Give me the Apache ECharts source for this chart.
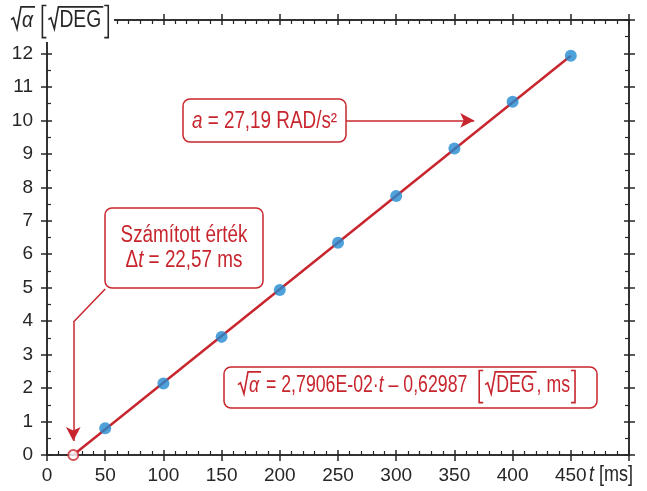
<!DOCTYPE html>
<html>
<head>
<meta charset="utf-8">
<script src="https://cdn.jsdelivr.net/npm/echarts@6/dist/echarts.min.js"></script>
<style>
  html, body { margin: 0; padding: 0; background: #fff; }
  #chart { width: 647px; height: 491px; }
</style>
</head>
<body>
<div id="chart"></div>
<script>
// measured points
const tVals = [50, 100, 150, 200, 250, 300, 350, 400, 450];
const alphaVals = [0.80, 2.14, 3.53, 4.93, 6.34, 7.74, 9.16, 10.56, 11.93];
// fitted line, from the computed zero crossing to the last point
const fitT = [22.57, 450];
const fitAlpha = [0, 11.93];
const zeroT = 22.57;
// axis ranges
const xMin = 0, xMax = 500, xStep = 50;
const yMin = 0, yMax = 13, yStep = 1;

const RED = '#c8262e';
const BLUE = '#2389cf';
const INK = '#262626';
const FAM = '"Liberation Sans Narrow", "Liberation Sans", Arial, sans-serif';

const cv = document.createElement('canvas').getContext('2d');
function fontOf(size, it) { return (it ? 'italic ' : '') + size + 'px ' + FAM; }
function mw(s, size, it, sx) { cv.font = fontOf(size, it); return cv.measureText(s).width * sx; }

const RADW = 11, BRW = 8;
function rowWidth(parts, size, sx) {
  let w = 0;
  parts.forEach(p => {
    if (p.br) w += BRW;
    else if (p.sq) w += RADW + mw(p.sq, size, p.it, sx) + 2;
    else w += mw(p.s, size, p.it, sx);
  });
  return w;
}
// lays out text pieces with drawn radicals and tall brackets; sx squeezes the regular sans
function drawMath(els, parts, x, base, size, color, sx) {
  sx = sx || 0.82;
  const mid = base - 0.33 * size;
  const txt = (s, xx, it) => els.push({
    type: 'text', x: xx, y: mid, z: 110, scaleX: sx,
    style: { text: s, font: fontOf(size, it), fill: color, align: 'left', verticalAlign: 'middle' }
  });
  const line = (pts) => els.push({
    type: 'polyline', z: 110, shape: { points: pts },
    style: { stroke: color, lineWidth: 1.6, fill: null }
  });
  parts.forEach(p => {
    if (p.br) {
      const top = base - 0.98 * size, bot = base + 0.42 * size;
      if (p.br === '[') line([[x + 6, top], [x + 2, top], [x + 2, bot], [x + 6, bot]]);
      else line([[x + 1, top], [x + 5, top], [x + 5, bot], [x + 1, bot]]);
      x += BRW;
    } else if (p.sq) {
      const w = mw(p.sq, size, p.it, sx);
      const top = base - 0.92 * size;
      line([[x, base - 0.36 * size], [x + 2.5, base - 0.44 * size], [x + 6, base + 1],
            [x + 10, top], [x + RADW + w + 2, top]]);
      txt(p.sq, x + RADW, p.it);
      x += RADW + w + 2;
    } else {
      txt(p.s, x, p.it);
      x += mw(p.s, size, p.it, sx);
    }
  });
}
function centered(els, parts, cx, base, size, color, sx) {
  drawMath(els, parts, cx - rowWidth(parts, size, sx || 0.82) / 2, base, size, color, sx);
}
function box(els, x, y, w, h) {
  els.push({
    type: 'rect', z: 105, shape: { x: x, y: y, width: w, height: h, r: 7 },
    style: { fill: '#fff', stroke: RED, lineWidth: 1.5 }
  });
}

const els = [];
// y axis title, on white so the frame stops behind it
els.push({ type: 'rect', z: 104, shape: { x: 0, y: 0, width: 114, height: 42 }, style: { fill: '#fff' } });
drawMath(els, [{ sq: 'α', it: true }, { s: ' ' }, { br: '[' }, { sq: 'DEG' }, { br: ']' }], 11, 28, 23, INK, 0.84);
// x axis title
drawMath(els, [{ s: 't', it: true }, { s: ' [ms]' }], 589, 482, 22, INK);

// annotation boxes
box(els, 183, 99, 163, 43);
centered(els, [{ s: 'a', it: true }, { s: ' = 27,19 RAD/s²' }], 264.5, 129, 23, RED);
box(els, 105, 208, 158, 80);
centered(els, [{ s: 'Számított érték' }], 184, 243, 23, RED);
centered(els, [{ s: 'Δ' }, { s: 't', it: true }, { s: ' = 22,57 ms' }], 184, 268, 23, RED);
box(els, 224, 367, 373, 41);
centered(els, [{ sq: 'α', it: true }, { s: ' = 2,7906E-02·' }, { s: 't', it: true },
  { s: ' – 0,62987  ' }, { br: '[' }, { sq: 'DEG' }, { s: ', ms' }, { br: ']' }], 408, 393, 23, RED, 0.77);

function xAx(pos, inside, labels) {
  return {
    type: 'value', position: pos, min: xMin, max: xMax, interval: xStep,
    axisLine: { show: true, onZero: false, lineStyle: { color: INK, width: 1.5 } },
    axisTick: { show: true, inside: inside, length: inside ? 5 : 6, lineStyle: { color: INK, width: 1.5 } },
    minorTick: { show: inside, splitNumber: 5, length: 4, lineStyle: { color: INK, width: 1.2 } },
    splitLine: { show: false },
    axisLabel: {
      show: labels, margin: 11, color: INK, fontSize: 19, fontFamily: FAM,
      formatter: v => (v === xMax ? '' : String(v))
    }
  };
}
function yAx(pos, inside, labels) {
  return {
    type: 'value', position: pos, min: yMin, max: yMax, interval: yStep,
    axisLine: { show: true, onZero: false, lineStyle: { color: INK, width: 1.5 } },
    axisTick: { show: true, inside: inside, length: inside ? 5 : 6, lineStyle: { color: INK, width: 1.5 } },
    minorTick: { show: inside, splitNumber: 2, length: 4, lineStyle: { color: INK, width: 1.2 } },
    splitLine: { show: false },
    axisLabel: {
      show: labels, margin: 14, color: INK, fontSize: 19, fontFamily: FAM,
      formatter: v => (v === yMax ? '' : String(v))
    }
  };
}

const chart = echarts.init(document.getElementById('chart'));
chart.setOption({
  animation: false,
  backgroundColor: '#fff',
  grid: { left: 47, right: 18, top: 20, bottom: 36 },
  xAxis: [xAx('bottom', false, true), xAx('bottom', true, false), xAx('top', false, false), xAx('top', true, false)],
  yAxis: [yAx('left', false, true), yAx('left', true, false), yAx('right', false, false), yAx('right', true, false)],
  series: [
    {
      type: 'line',
      data: fitT.map((t, i) => [t, fitAlpha[i]]),
      showSymbol: false,
      lineStyle: { color: RED, width: 2.5 },
      z: 3,
      markLine: {
        silent: true,
        symbol: ['none', 'arrow'],
        symbolSize: [11, 14],
        label: { show: false },
        lineStyle: { color: RED, width: 1.5, type: 'solid' },
        data: [
          [{ coord: [257, 10] }, { coord: [367, 10] }],
          [{ coord: [50, 4.96], symbol: 'none' }, { coord: [zeroT, 3.97], symbol: 'none' }],
          [{ coord: [zeroT, 3.97] }, { coord: [zeroT, 0.42] }]
        ]
      }
    },
    {
      type: 'scatter',
      data: tVals.map((t, i) => [t, alphaVals[i]]),
      symbolSize: 12,
      itemStyle: { color: BLUE },
      z: 4
    },
    {
      type: 'scatter',
      data: [[zeroT, 0]],
      symbolSize: 10,
      itemStyle: { color: '#fff', borderColor: RED, borderWidth: 2 },
      z: 5
    }
  ],
  graphic: { elements: els }
});
</script>
</body>
</html>
